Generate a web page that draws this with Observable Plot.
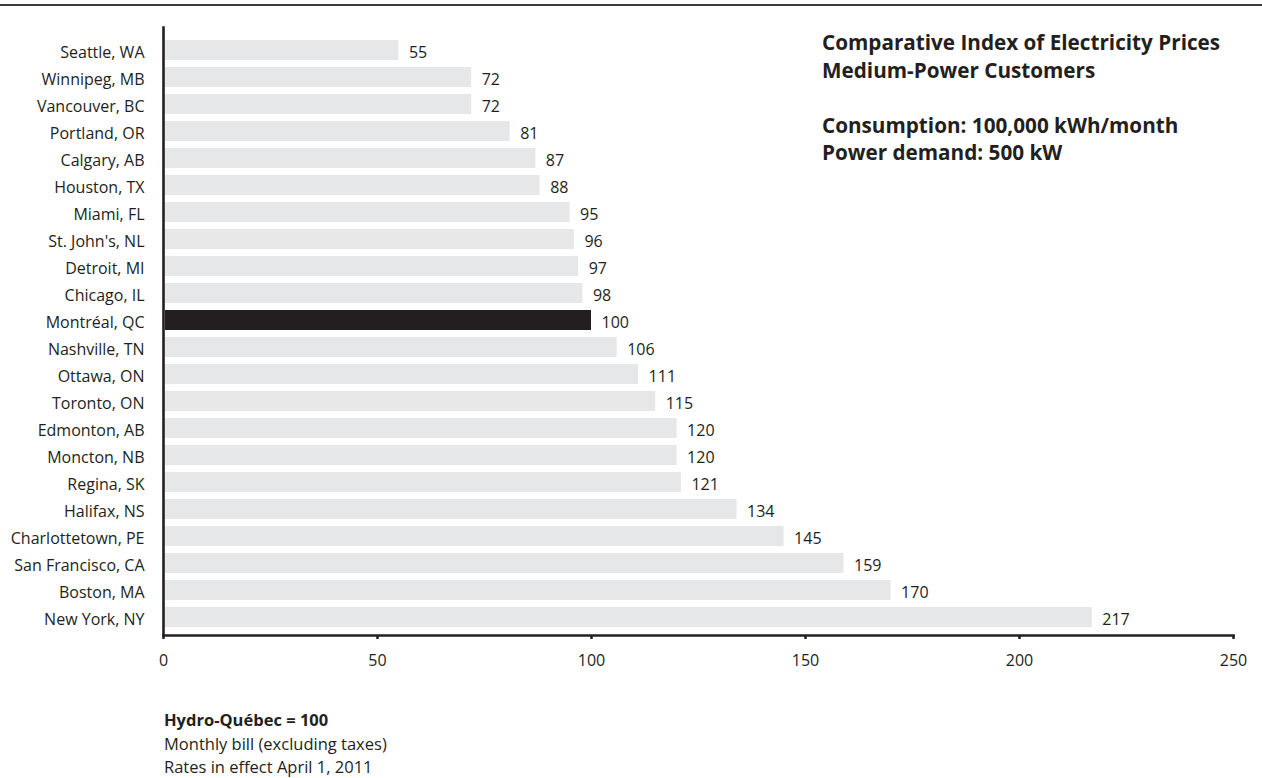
<!DOCTYPE html>
<html>
<head>
<meta charset="utf-8">
<script src="https://cdn.jsdelivr.net/npm/d3@7"></script>
<script src="https://cdn.jsdelivr.net/npm/@observablehq/plot@0.6"></script>
<style>
  html, body { margin: 0; padding: 0; background: #fff; }
  body { width: 1262px; height: 778px; position: relative; overflow: hidden; font-family: "Open Sans", "Noto Sans", sans-serif; color: #231f20; }
  #rule { position: absolute; left: 0; top: 4px; width: 1262px; height: 0; border-top: 2px solid #3a3a3a; }
  #chart { position: absolute; left: 0; top: 0; }
  #title { position: absolute; left: 822px; top: 29px; font-weight: bold; font-size: 20.7px; line-height: 27.5px; color: #231f20; white-space: nowrap; }
  #note { position: absolute; left: 164px; top: 708px; font-size: 16.5px; line-height: 23.5px; color: #231f20; white-space: nowrap; }
  #note .b { font-weight: bold; }
</style>
</head>
<body>
<div id="rule"></div>
<div id="chart"></div>
<div id="title">
  <div>Comparative Index of Electricity Prices</div>
  <div>Medium-Power Customers</div>
  <div>&nbsp;</div>
  <div>Consumption: 100,000 kWh/month</div>
  <div>Power demand: 500 kW</div>
</div>
<div id="note">
  <div class="b">Hydro-Québec = 100</div>
  <div>Monthly bill (excluding taxes)</div>
  <div>Rates in effect April 1, 2011</div>
</div>
<script>
const cities = ["Seattle, WA","Winnipeg, MB","Vancouver, BC","Portland, OR","Calgary, AB","Houston, TX","Miami, FL","St. John's, NL","Detroit, MI","Chicago, IL","Montréal, QC","Nashville, TN","Ottawa, ON","Toronto, ON","Edmonton, AB","Moncton, NB","Regina, SK","Halifax, NS","Charlottetown, PE","San Francisco, CA","Boston, MA","New York, NY"];
const values = [55,72,72,81,87,88,95,96,97,98,100,106,111,115,120,120,121,134,145,159,170,217];
const xTicks = [0,50,100,150,200,250];
const highlight = "Montréal, QC";

const data = cities.map((c, i) => ({city: c, value: values[i], hl: c === highlight}));

const chart = Plot.plot({
  width: 1262,
  height: 680,
  marginLeft: 163,
  marginRight: 29,
  marginTop: 27,
  marginBottom: 45,
  style: {fontFamily: "'Open Sans', 'Noto Sans', sans-serif", fontSize: "16px", color: "#231f20", background: "transparent"},
  x: {domain: [0, 250], range: [163, 1233], ticks: xTicks, label: null},
  y: {domain: cities, range: [36, 631], paddingInner: 0.27, paddingOuter: 0, label: null},
  marks: [
    Plot.barX(data, {y: "city", x: "value", fill: d => d.hl ? "#231f20" : "#e6e7e8", insetLeft: 2}),
    Plot.text(data, {y: "city", x: "value", text: d => String(d.value), textAnchor: "start", dx: 10, dy: 2, fill: "#231f20", fontSize: 16}),
    Plot.axisX({ticks: xTicks, tickSize: 4, tickPadding: 15, stroke: "#231f20", strokeWidth: 2.5, fontSize: 16, label: null, fill: "#231f20"}),
    Plot.axisY({tickSize: 0, tickPadding: 19, dy: 2, fontSize: 16, label: null, fill: "#231f20"}),
    Plot.frame({anchor: "left", stroke: "#231f20", strokeWidth: 2.6}),
    Plot.frame({anchor: "bottom", stroke: "#231f20", strokeWidth: 2.6})
  ]
});
document.getElementById("chart").appendChild(chart);
</script>
</body>
</html>
